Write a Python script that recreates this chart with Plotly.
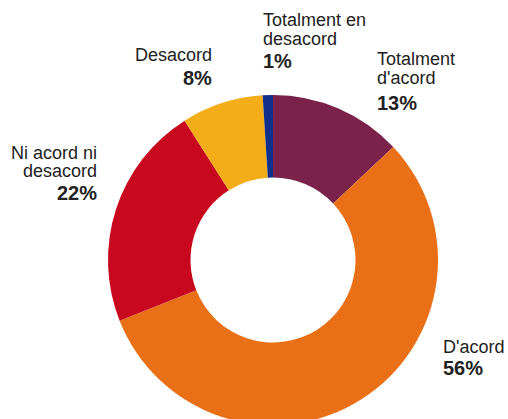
import plotly.graph_objects as go

categories = ["Totalment d'acord", "D'acord", "Ni acord ni desacord", "Desacord", "Totalment en desacord"]
values = [13, 56, 22, 8, 1]
label_lines = [["Totalment", "d'acord"], ["D'acord"], ["Ni acord ni", "desacord"], ["Desacord"], ["Totalment en", "desacord"]]
colors = ["#7A2249", "#E97016", "#C8081E", "#F3AE17", "#11308A"]

W, H = 508, 425  # figure slightly taller than the window so the donut bottom is cut like the reference
# label layout (pixel anchor x, alignment, baselines of name lines, baseline of percent)
label_pos = [
    (377, "left", [65.8, 84.6], 110.5),
    (443, "left", [353.3], 375.5),
    (97, "right", [159, 177.2], 200.5),
    (212, "right", [61.7], 85),
    (263, "left", [26.8, 45.6], 68.3),
]

fig = go.Figure(go.Pie(
    labels=categories,
    values=values,
    marker=dict(colors=colors, line=dict(width=0)),
    hole=0.5,
    sort=False,
    direction="clockwise",
    rotation=0,
    textinfo="none",
    hoverinfo="label+percent",
    domain=dict(x=[(273 - 165) / W, (273 + 165) / W], y=[0, 1 - 95 / H]),
))

annotations = []
name_size = 18
pct_size = 20
for lines, val, (px, align, baselines, pbase) in zip(label_lines, values, label_pos):
    for line, b in zip(lines, baselines):
        annotations.append(dict(
            x=px / W, y=1 - (b - 0.36 * name_size) / H, xref="paper", yref="paper",
            text=line, showarrow=False, xanchor=align, yanchor="middle",
            font=dict(family="Liberation Sans, Arial, sans-serif", size=name_size, color="#222222"),
            borderpad=0, borderwidth=0,
        ))
    annotations.append(dict(
        x=px / W, y=1 - (pbase - 0.36 * pct_size) / H, xref="paper", yref="paper",
        text="<b>%d%%</b>" % val, showarrow=False, xanchor=align, yanchor="middle",
        font=dict(family="Liberation Sans, Arial, sans-serif", size=pct_size, color="#222222"),
        borderpad=0, borderwidth=0,
    ))

fig.update_layout(
    width=W, height=H,
    margin=dict(l=0, r=0, t=0, b=0),
    paper_bgcolor="white",
    plot_bgcolor="white",
    showlegend=False,
    annotations=annotations,
)

fig.write_html(
    "out.html",
    config={"displayModeBar": False},
    post_script="document.body.style.margin='0';document.body.style.overflow='hidden';",
)
